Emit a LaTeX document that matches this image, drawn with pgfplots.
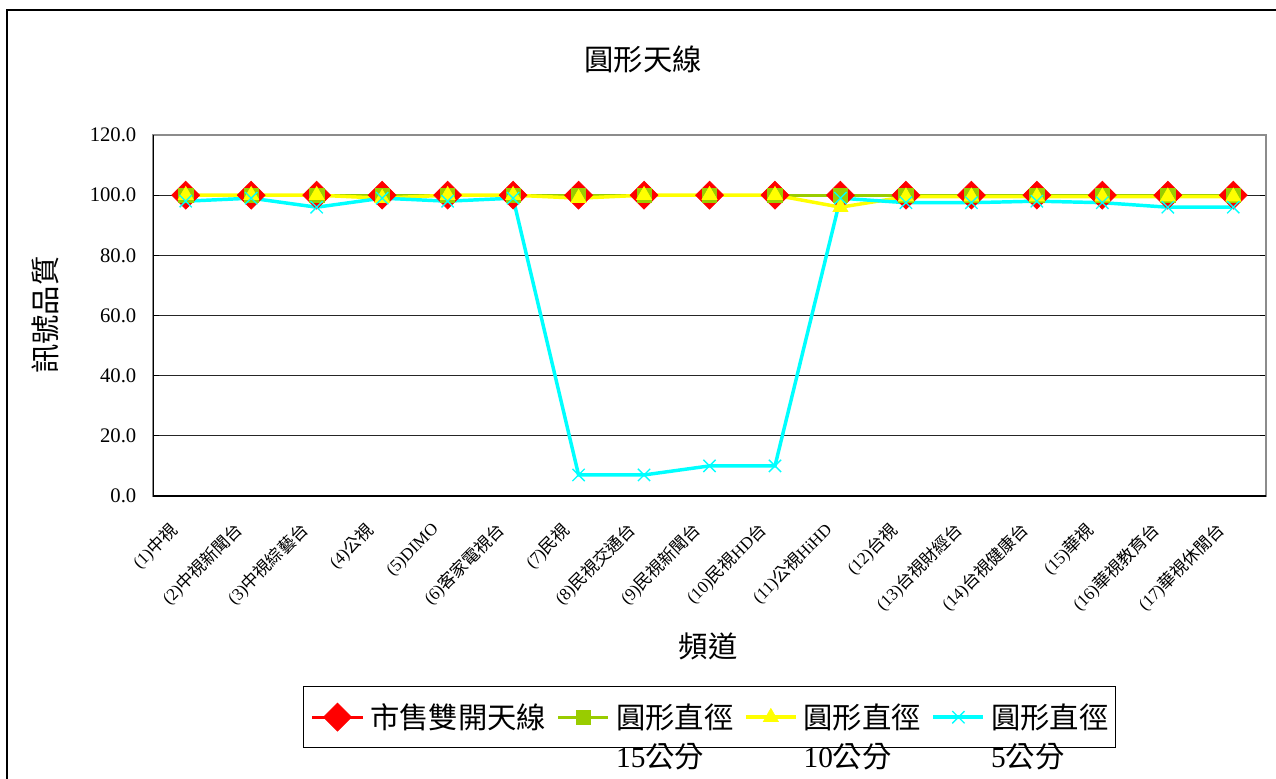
\documentclass[border=0pt]{standalone}
\usepackage{fontspec}
\setmainfont{Liberation Serif}
\newfontfamily\cjk{Noto Sans CJK TC}
\usepackage{pgfplots}
\pgfplotsset{compat=1.18}

\definecolor{cred}{RGB}{255,0,0}
\definecolor{cgreen}{RGB}{153,204,0}
\definecolor{cyel}{RGB}{255,255,0}
\definecolor{ccyan}{RGB}{0,255,255}
\newcommand{\zh}[1]{{\cjk #1}}

\begin{document}
\begin{tikzpicture}
  \begin{axis}[
      scale only axis,
      width=834.75pt, height=270.75pt,
      xmin=0.5, xmax=17.5,
      ymin=0, ymax=120,
      ytick={0,20,...,120},
      /pgf/number format/fixed,
      /pgf/number format/fixed zerofill,
      /pgf/number format/precision=1,
      /pgf/number format/assume math mode=true,
      yticklabel style={font=\fontsize{15.5pt}{18pt}\selectfont, xshift=-9pt},
      xtick={1,...,17},
      xticklabels={{(1)\zh{中視}},{(2)\zh{中視新聞台}},{(3)\zh{中視綜藝台}},{(4)\zh{公視}},
        {(5)DIMO},{(6)\zh{客家電視台}},{(7)\zh{民視}},{(8)\zh{民視交通台}},{(9)\zh{民視新聞台}},
        {(10)\zh{民視}HD\zh{台}},{(11)\zh{公視}HiHD},{(12)\zh{台視}},{(13)\zh{台視財經台}},
        {(14)\zh{台視健康台}},{(15)\zh{華視}},{(16)\zh{華視教育台}},{(17)\zh{華視休閒台}}},
      xticklabel style={xshift=-6pt, yshift=-21pt, rotate=45, anchor=east,
        font=\fontsize{12.8pt}{15pt}\selectfont},
      x tick style={draw=none},
      minor xtick={1.5,2.5,...,16.5},
      minor x tick style={black, line width=0.75pt},
      minor tick length=4.5pt,
      major tick length=4.5pt,
      tick align=inside,
      y tick style={black, line width=0.75pt},
      ymajorgrids,
      grid style={black!85, line width=0.75pt},
      axis line style={draw=black!45, line width=1pt},
      legend columns=4,
      legend image code/.code={\draw[mark repeat=2, mark phase=2, #1]
        plot coordinates {(0cm,0cm) (0.66cm,0cm) (1.32cm,0cm)};},
      legend style={at={(0.1348,-0.526)}, anchor=north west,
        draw=black, line width=0.75pt,
        inner xsep=5.5pt, inner ysep=12pt,
        font=\fontsize{22pt}{29pt}\selectfont,
        nodes={inner xsep=0pt, inner ysep=1pt},
        /tikz/every odd column/.append style={column sep=4.5pt},
        /tikz/every even column/.append style={column sep=8pt},
        cells={anchor=west}},
    ]
    \addplot[cred, line width=2.4pt, mark=square*, mark size=7.4pt,
      mark options={rotate=45, solid, line width=0.5pt, fill=cred}]
    coordinates {(1,100) (2,100) (3,100) (4,100) (5,100) (6,100) (7,100) (8,100) (9,100)
      (10,100) (11,100) (12,100) (13,100) (14,100) (15,100) (16,100) (17,100)};
    \addlegendentry{\zh{市售雙開天線}}
    \addplot[cgreen, line width=2.4pt, mark=square*, mark size=5.4pt,
      mark options={solid, line width=0.5pt, fill=cgreen}]
    coordinates {(1,100) (2,100) (3,100) (4,100) (5,100) (6,100) (7,100) (8,100) (9,100)
      (10,100) (11,100) (12,100) (13,100) (14,100) (15,100) (16,100) (17,100)};
    \addlegendentry{\vtop{\hbox{\zh{圓形直徑}}\hbox{15\zh{公分}}}}
    \addplot[cyel, line width=2.6pt, mark=triangle*, mark size=6.5pt,
      mark options={solid, line width=0.5pt, fill=cyel}]
    coordinates {(1,100) (2,100) (3,100) (4,99) (5,100) (6,100) (7,99) (8,100) (9,100)
      (10,100) (11,96) (12,99.5) (13,99.5) (14,99.5) (15,99.5) (16,99.5) (17,99.5)};
    \addlegendentry{\vtop{\hbox{\zh{圓形直徑}}\hbox{10\zh{公分}}}}
    \addplot[ccyan, line width=2.6pt, mark=x, mark size=6.5pt,
      mark options={solid, line width=1pt}]
    coordinates {(1,98) (2,99) (3,96) (4,99) (5,98) (6,99) (7,7) (8,7) (9,10)
      (10,10) (11,99) (12,97.5) (13,97.5) (14,98) (15,97.5) (16,96) (17,96)};
    \addlegendentry{\vtop{\hbox{\zh{圓形直徑}}\hbox{5\zh{公分}}}}
    \draw[black, line width=1pt] (rel axis cs:0,1) -- (rel axis cs:0,0) -- (rel axis cs:1,0);
  \end{axis}
  \begin{scope}[x=0.75pt, y=-0.75pt, shift={(-114.75pt,372pt)}]
    \node[font=\fontsize{22pt}{26pt}\selectfont] at (643,59) {\zh{圓形天線}};
    \node[font=\fontsize{22pt}{26pt}\selectfont, rotate=90] at (45,315) {\zh{訊號品質}};
    \node[font=\fontsize{22pt}{26pt}\selectfont] at (708,646) {\zh{頻道}};
    \draw[black, line width=1.5pt] (7.5,830) -- (7.5,10.5) -- (1300,10.5);
    \pgfresetboundingbox
    \useasboundingbox (0,0) rectangle (1276,778);
  \end{scope}
\end{tikzpicture}
\end{document}
